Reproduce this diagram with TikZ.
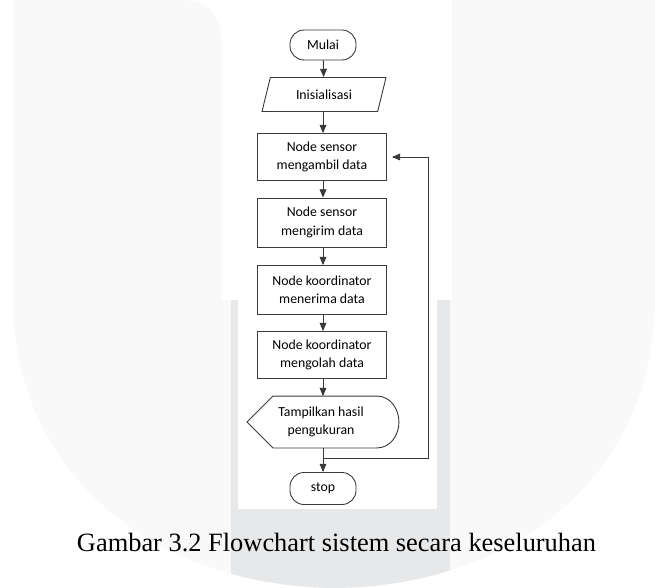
\documentclass[tikz,border=0pt]{standalone}
\usepackage{fontspec}
\setmainfont{Liberation Serif}
\newfontfamily\flowfont{Carlito}
\usepackage{tikz}
\usetikzlibrary{shapes}
\usetikzlibrary{arrows}
\usetikzlibrary{positioning}
\definecolor{wmfaint}{HTML}{F9F9F9}
\definecolor{wmstrip}{HTML}{E7E8EA}
\definecolor{edge}{HTML}{3A3A3A}
\tikzstyle{flowtext}=[font=\flowfont\fontsize{13.8}{18.5}\selectfont,align=center,text=black]
\tikzstyle{term}=[flowtext,rectangle,rounded corners=14pt,draw=edge,fill=white,minimum width=66pt,minimum height=30pt]
\tikzstyle{io}=[flowtext,trapezium,trapezium left angle=63,trapezium right angle=117,trapezium stretches body,draw=edge,fill=white,minimum width=124pt,minimum height=34pt]
\tikzstyle{proc}=[flowtext,rectangle,draw=edge,fill=white,minimum width=129pt,minimum height=48pt]
\tikzstyle{disp}=[rectangle,minimum width=151pt,minimum height=51pt]
\tikzstyle{arrow}=[->,>=triangle 45]
\tikzset{every picture/.style={
    line width=0.9pt
  }
}

\begin{document}
\begin{tikzpicture}[x=1pt,y=-1pt]
        \useasboundingbox (0,0) rectangle (655,588);
        % watermark behind the figure
        \fill[wmfaint] (13,0) -- (13,300) .. controls (13,470) and (150,586) .. (335,588)
          .. controls (520,586) and (655,470) .. (655,300) -- (655,0) -- cycle;
        \fill[white] (222,-1) rectangle (452,300);
        \fill[wmfaint] (452,60) .. controls (452,15) and (462,0) .. (500,0) -- (452,0) -- cycle;
        \fill[white] (180,0) .. controls (210,0) and (222,15) .. (222,50) -- (222,0) -- cycle;
        \begin{scope}
          \clip (13,0) -- (13,300) .. controls (13,470) and (150,586) .. (335,588)
            .. controls (520,586) and (655,470) .. (655,300) -- (655,0) -- cycle;
          \fill[wmstrip] (231,300) rectangle (450,590);
        \end{scope}
        \fill[white] (238,15) rectangle (437,509);
        % flowchart
        \node[term] at (323,45) (mulai) {Mulai};
        \node[io] at (324,94.5) (init) {Inisialisasi};
        \node[proc, minimum height=47pt] at (322,157) (ambil) {Node sensor\\mengambil data};
        \node[proc, minimum height=49pt] at (322,222.5) (kirim) {Node sensor\\mengirim data};
        \node[proc, minimum height=49pt] at (322,290) (terima) {Node koordinator\\menerima data};
        \node[proc, minimum height=47pt] at (322,355) (olah) {Node koordinator\\mengolah data};
        \node[disp] at (323,422) (tampil) {};
        \draw[edge,fill=white] (tampil.west) -- ([xshift=26pt]tampil.north west)
          -- ([xshift=-22pt]tampil.north east) to[out=0,in=90] (tampil.east)
          to[out=-90,in=0] ([xshift=-22pt]tampil.south east)
          -- ([xshift=26pt]tampil.south west) -- cycle;
        \node[flowtext] at (321,422) (tampiltxt) {Tampilkan hasil\\pengukuran};
        \node[term, minimum height=32pt] at (323,488.5) (stop) {stop};
        \coordinate (jn) at (323,458);
        \coordinate (lp) at (428,458);
        \draw[arrow,edge] (mulai) -- (init);
        \draw[arrow,edge] (init.south -| mulai) -- (ambil.north -| mulai);
        \draw[arrow,edge] (ambil.south -| mulai) -- (kirim.north -| mulai);
        \draw[arrow,edge] (kirim.south -| mulai) -- (terima.north -| mulai);
        \draw[arrow,edge] (terima.south -| mulai) -- (olah.north -| mulai);
        \draw[arrow,edge] (olah.south -| mulai) -- (tampil.north -| mulai);
        \draw[arrow,edge] (tampil.south -| mulai) -- (stop);
        \draw[arrow,edge,shorten >=5pt] (jn) -- (lp) |- (ambil.east);
        % caption
        \node[font=\fontsize{26.4}{30}\selectfont] at (336.5,543) (caption) {Gambar 3.2 Flowchart sistem secara keseluruhan};
\end{tikzpicture}
\end{document}
